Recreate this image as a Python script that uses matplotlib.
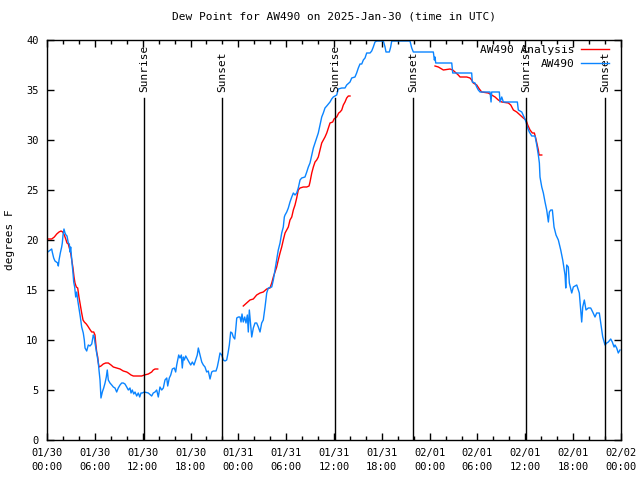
import numpy as np
import matplotlib
matplotlib.use('Agg')
import matplotlib.pyplot as plt
from matplotlib.ticker import MultipleLocator

# Stunden seit 01/30 00:00 UTC, Taupunkt in °F
obs_hours = [0.09, 0.59, 0.66, 0.84, 1.0, 1.17, 1.34, 1.42, 1.51, 1.67, 1.84, 1.92, 2.01, 2.13, 2.26,
             2.38, 2.51, 2.67, 2.80, 2.89, 2.97, 3.05, 3.14, 3.26, 3.35, 3.47, 3.60, 3.73, 3.85, 4.05,
             4.18, 4.35, 4.55, 4.68, 4.77, 4.98, 5.18, 5.39, 5.61, 5.81, 5.93, 6.02, 6.23, 6.44, 6.52,
             6.65, 6.77, 6.94, 7.11, 7.28, 7.44, 7.56, 7.69, 7.90, 8.12, 8.32, 8.53, 8.74, 8.94, 9.16,
             9.37, 9.57, 9.78, 10.0, 10.2, 10.41, 10.54, 10.70, 10.88, 11.04, 11.25, 11.45, 11.63, 11.79,
             11.95, 12.21, 12.71, 13.13, 13.33, 13.55, 13.76, 13.96, 14.17, 14.39, 14.59, 14.80, 15.02,
             15.14, 15.34, 15.52, 15.72, 15.97, 16.14, 16.27, 16.40, 16.52, 16.68, 16.85, 16.97, 17.10,
             17.22, 17.40, 17.60, 17.81, 18.03, 18.23, 18.44, 18.65, 18.85, 18.98, 19.10, 19.28, 19.41,
             19.61, 19.82, 20.03, 20.23, 20.45, 20.66, 20.86, 21.20, 21.36, 21.54, 21.70, 21.92, 22.12,
             22.33, 22.54, 22.71, 22.87, 23.04, 23.21, 23.37, 23.55, 23.67, 23.80, 24.0, 24.21, 24.34,
             24.46, 24.62, 24.80, 24.96, 25.13, 25.25, 25.38, 25.68, 25.88, 26.09, 26.30, 26.51, 26.72,
             26.93, 27.13, 27.35, 27.56, 27.76, 28.19, 28.39, 28.60, 28.81, 29.01, 29.23, 29.44, 29.64,
             29.77, 29.86, 30.07, 30.27, 30.48, 30.70, 30.90, 31.11, 31.32, 31.52, 31.74, 31.95, 32.36,
             32.58, 32.78, 32.99, 33.21, 33.41, 33.62, 33.83, 34.03, 34.25, 34.46, 34.66, 34.87, 35.09,
             35.29, 35.50, 35.71, 35.91, 36.34, 36.54, 36.97, 37.38, 37.59, 38.01, 38.22, 38.63, 38.84,
             39.05, 39.26, 39.48, 39.68, 39.89, 40.10, 40.52, 40.73, 40.93, 41.14, 41.36, 42.19, 42.40,
             42.52, 42.94, 43.11, 43.24, 45.53, 45.75, 45.95, 48.46, 48.59, 48.67, 48.76, 50.77, 50.89,
             53.27, 53.35, 53.69, 53.90, 54.10, 54.32, 55.57, 55.70, 55.78, 56.74, 56.82, 57.04, 57.24,
             59.0, 59.12, 59.55, 59.84, 60.09, 60.25, 60.50, 60.80, 61.22, 61.43, 61.63, 61.76, 61.84,
             62.06, 62.26, 62.47, 62.68, 62.89, 63.01, 63.19, 63.39, 63.60, 63.85, 64.14, 64.44, 64.69,
             64.98, 65.07, 65.19, 65.39, 65.52, 65.82, 66.02, 66.45, 66.77, 67.07, 67.20, 67.40, 67.61,
             67.90, 68.20, 68.45, 68.74, 68.95, 69.28, 69.46, 69.71, 69.99, 70.21, 70.41, 70.71, 70.91,
             71.13, 71.25, 71.46, 71.66, 71.87]
obs_dewpt = [18.8, 19.1, 18.8, 18.2, 17.9, 17.8, 17.7, 17.4, 18.0, 18.7, 19.3, 19.7, 20.5, 21.1, 20.7,
             20.5, 20.4, 19.7, 19.6, 18.8, 19.3, 18.5, 17.7, 16.7, 15.8, 15.3, 14.3, 14.8, 14.0, 13.0,
             12.3, 11.3, 10.7, 10.0, 9.2, 8.9, 9.5, 9.4, 9.6, 10.5, 10.3, 9.7, 8.7, 7.7, 7.0,
             6.0, 4.2, 4.8, 5.2, 5.7, 6.3, 7.0, 6.0, 5.7, 5.5, 5.3, 5.2, 4.8, 5.2, 5.5,
             5.7, 5.7, 5.6, 5.3, 5.0, 5.2, 4.7, 5.0, 4.6, 4.8, 4.4, 4.7, 4.3, 4.7,
             4.7, 4.8, 4.7, 4.4, 4.7, 4.8, 5.0, 4.3, 5.3, 5.0, 5.2, 6.0, 6.2,
             5.4, 6.2, 6.5, 7.1, 7.2, 6.8, 7.5, 8.0, 8.5, 8.2, 8.5, 7.2, 8.3,
             8.0, 8.4, 8.1, 7.8, 7.5, 7.8, 7.5, 8.0, 8.5, 9.2, 8.8, 8.2, 7.8,
             7.5, 7.3, 6.8, 6.9, 6.1, 6.8, 6.9, 6.9, 7.3, 8.0, 8.7, 8.5, 8.0,
             7.9, 8.0, 8.7, 9.5, 10.8, 10.7, 10.3, 10.1, 11.0, 12.2, 12.3, 12.3, 11.8,
             12.6, 11.8, 12.3, 11.7, 12.5, 10.8, 13.0, 10.3, 11.2, 11.7, 11.7, 11.3, 10.8,
             11.7, 12.0, 13.3, 14.7, 15.2, 15.3, 16.0, 17.0, 18.0, 19.0, 19.7, 20.7, 21.3,
             22.3, 22.5, 22.8, 23.2, 23.8, 24.3, 24.7, 24.5, 24.7, 25.2, 26.0, 26.2, 26.3,
             26.8, 27.3, 27.7, 28.5, 29.2, 29.7, 30.2, 30.7, 31.5, 32.3, 32.7, 33.2, 33.4,
             33.6, 33.8, 34.1, 34.3, 34.5, 35.1, 35.2, 35.2, 35.5, 35.8, 36.2, 36.3, 36.7,
             37.2, 37.6, 37.6, 38.0, 38.2, 38.7, 38.7, 38.9, 39.3, 39.8, 39.9, 39.9, 39.3,
             38.8, 38.8, 39.3, 39.9, 39.9, 39.2, 38.8, 38.8, 38.0, 38.3, 37.7, 37.7, 36.7,
             36.7, 35.8, 35.7, 35.3, 35.0, 34.8, 34.8, 33.8, 34.8, 34.8, 33.8, 34.3, 33.8,
             33.8, 33.0, 32.8, 32.3, 31.8, 31.3, 30.8, 30.4, 30.4, 29.5, 28.5, 27.7, 26.3,
             25.3, 24.7, 23.8, 23.0, 21.8, 22.8, 23.0, 23.0, 21.3, 20.5, 20.0, 19.0, 18.0,
             16.5, 15.2, 17.5, 17.3, 15.7, 14.7, 15.3, 15.5, 14.7, 11.8, 13.3, 14.0, 13.0,
             13.2, 13.2, 12.8, 12.3, 12.7, 12.7, 11.7, 10.3, 9.5, 9.7, 9.8, 10.1, 9.8,
             9.3, 9.5, 9.2, 8.7, 9.0]

# Analyse (Lücken als NaN)
ana_hours = [0.09, 0.59, 0.92, 1.22, 1.51, 1.76, 1.97, 2.17, 2.35, 2.51, 2.67, 2.80, 2.97, 3.10, 3.26,
             3.39, 3.51, 3.68, 3.85, 4.01, 4.18, 4.35, 4.52, 4.68, 4.93, 5.11, 5.27, 5.43, 5.61, 5.86,
             6.02, 6.11, 6.23, 6.36, 6.44, 6.52, 6.77, 7.06, 7.36, 7.69, 8.03, 8.32, 8.74, 9.16, 9.57,
             10.0, 10.2, 10.54, 10.83, 11.88, 12.21, 12.71, 12.92, 13.13, 13.33, 13.55, 13.89, 14.0,
             24.62, 25.05, 25.46, 25.88, 26.30, 26.72, 27.13, 27.56, 27.97, 28.19, 28.39, 28.60, 28.81,
             29.01, 29.23, 29.44, 29.64, 29.86, 30.27, 30.48, 30.70, 30.90, 31.11, 31.32, 31.52, 31.74,
             32.15, 32.58, 32.87, 32.99, 33.21, 33.41, 33.62, 33.83, 34.03, 34.25, 34.46, 34.66, 34.87,
             35.09, 35.29, 35.50, 35.84, 36.0, 36.34, 36.59, 36.76, 36.97, 37.17, 37.38, 37.59, 37.80,
             38.01, 38.1,
             48.67, 49.09, 49.51, 49.72, 50.55, 50.89, 51.18, 51.59, 51.81, 52.65, 53.06, 53.27, 53.47,
             53.90, 54.23, 54.53, 55.36, 55.78, 56.20, 56.61, 57.04, 57.87, 58.17, 58.50, 58.92, 59.34,
             59.75, 60.09, 60.30, 60.59, 60.88, 61.13, 61.30, 61.50, 61.63, 61.72, 62.06]
ana_dewpt = [20.1, 20.1, 20.3, 20.6, 20.8, 20.9, 20.8, 20.5, 20.1, 19.7, 19.6, 19.2, 18.7, 18.0, 17.2,
             16.3, 15.7, 15.3, 15.2, 14.3, 13.5, 12.7, 12.0, 11.8, 11.6, 11.4, 11.2, 11.0, 10.8, 10.8,
             10.5, 9.7, 8.8, 8.3, 7.7, 7.3, 7.4, 7.6, 7.7, 7.7, 7.5, 7.3, 7.2, 7.1, 6.9,
             6.8, 6.7, 6.5, 6.4, 6.4, 6.5, 6.6, 6.7, 6.8, 7.0, 7.1, 7.1, np.nan,
             13.4, 13.7, 14.0, 14.1, 14.5, 14.7, 14.8, 15.1, 15.2, 15.7, 16.3, 16.8, 17.3,
             18.0, 18.7, 19.3, 20.0, 20.7, 21.3, 22.0, 22.3, 23.0, 23.5, 24.2, 25.0, 25.2,
             25.3, 25.3, 25.4, 25.8, 26.7, 27.3, 27.8, 28.0, 28.3, 29.0, 29.7, 30.0, 30.3,
             30.7, 31.2, 31.7, 31.8, 32.1, 32.3, 32.7, 32.8, 33.0, 33.5, 33.8, 34.2, 34.4,
             34.4, np.nan,
             37.4, 37.3, 37.1, 37.0, 37.1, 37.0, 36.8, 36.5, 36.3, 36.3, 36.2, 36.0, 35.7,
             35.5, 35.1, 34.8, 34.7, 34.5, 34.3, 34.0, 33.8, 33.7, 33.5, 33.0, 32.8, 32.5,
             32.2, 32.0, 31.5, 31.0, 30.7, 30.7, 30.2, 29.5, 29.0, 28.5, 28.5]

sun_hours = [12.17, 21.95, 36.15, 45.95, 60.14, 69.98]
sun_labels = ['Sunrise', 'Sunset', 'Sunrise', 'Sunset', 'Sunrise', 'Sunset']

tick_hours = [0, 6, 12, 18, 24, 30, 36, 42, 48, 54, 60, 66, 72]
tick_labels = ['01/30\n00:00', '01/30\n06:00', '01/30\n12:00', '01/30\n18:00',
               '01/31\n00:00', '01/31\n06:00', '01/31\n12:00', '01/31\n18:00',
               '02/01\n00:00', '02/01\n06:00', '02/01\n12:00', '02/01\n18:00',
               '02/02\n00:00']

plt.rcParams['font.family'] = ['DejaVu Sans Mono']
plt.rcParams['font.size'] = 7.5

fig = plt.figure(figsize=(6.4, 4.8), dpi=100)
ax = fig.add_axes([47 / 640, 40 / 480, 574 / 640, 400 / 480])

ax.plot(ana_hours, ana_dewpt, color='#ff0000', lw=1, label='AW490 Analysis')
ax.plot(obs_hours, obs_dewpt, color='#0a84ff', lw=1, label='AW490')

for h, lab in zip(sun_hours, sun_labels):
    ax.plot([h, h], [0, 34.2], color='black', lw=1)
    ax.text(h, 34.8, lab, rotation=90, ha='center', va='bottom', fontsize=8)

ax.set_xlim(0, 72)
ax.set_ylim(0, 40)
ax.set_xticks(tick_hours)
ax.set_xticklabels(tick_labels, linespacing=1.5)
ax.xaxis.set_minor_locator(MultipleLocator(2))
ax.yaxis.set_major_locator(MultipleLocator(5))
ax.tick_params(which='both', direction='in', top=True, right=True, width=1)
ax.tick_params(which='major', length=5, pad=6)
ax.tick_params(which='minor', length=3)
for s in ax.spines.values():
    s.set_linewidth(1)

ax.set_title('Dew Point for AW490 on 2025-Jan-30 (time in UTC)', fontsize=8, pad=15)
ax.set_ylabel('degrees F', fontsize=8, labelpad=8)

ax.legend(loc='upper right', bbox_to_anchor=(1, 1.0175), frameon=False, markerfirst=False,
          handlelength=2.5, handletextpad=0.6, borderaxespad=0.7, labelspacing=0.3, fontsize=8)

fig.savefig('out.png', dpi=100)
